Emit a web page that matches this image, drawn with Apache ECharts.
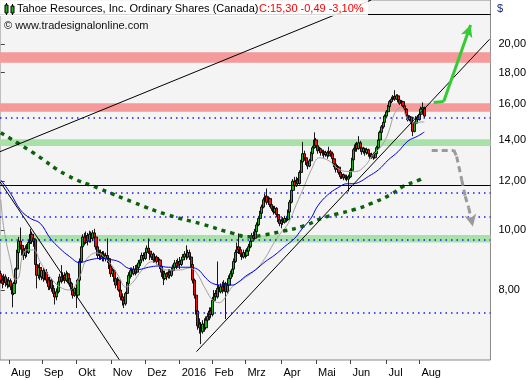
<!DOCTYPE html>
<html><head><meta charset="utf-8">
<script src="https://cdn.jsdelivr.net/npm/echarts@6/dist/echarts.min.js"></script>
<style>html,body{margin:0;padding:0;background:#fff}#c{width:529px;height:380px}</style>
</head><body><div id="c"></div>
<script>
// Daily candles [open, close, low, high], trading days from 2015-07-27
const ohlc = [
[8.50,8.30,8.20,8.60],[8.30,8.20,8.05,8.45],[8.25,8.40,8.15,8.50],[8.40,8.22,8.10,8.48],[8.20,8.15,8.05,8.35],
[8.15,8.28,8.08,8.40],[8.28,8.10,8.00,8.35],[8.10,7.88,7.50,8.15],[7.90,8.20,7.85,8.25],[8.20,8.65,8.15,8.70],
[8.65,9.20,8.60,9.30],[9.20,9.60,9.10,9.75],[9.60,9.45,9.30,10.10],[9.45,9.30,9.10,9.60],[9.30,9.10,8.95,9.40],
[9.10,9.35,9.00,9.45],[9.35,9.20,9.05,9.50],[9.20,9.55,9.15,9.65],[9.55,9.85,9.50,10.05],[9.85,9.60,9.50,9.95],
[9.60,9.70,9.40,9.85],[9.65,8.80,8.70,9.70],[8.80,8.45,8.05,8.90],[8.45,8.70,8.35,8.80],[8.70,8.40,8.30,8.85],
[8.40,8.60,8.30,8.70],[8.60,8.35,8.25,8.70],[8.35,8.55,8.30,8.65],[8.55,8.30,8.20,8.65],[8.30,8.10,8.00,8.40],
[8.10,8.30,8.00,8.40],[8.30,8.05,7.95,8.35],[8.05,7.90,7.80,8.15],[7.90,7.80,7.58,8.00],[7.80,7.95,7.70,8.05],
[7.95,8.25,7.90,8.35],[8.25,8.40,8.20,8.50],[8.40,8.30,8.20,8.78],[8.30,8.45,8.25,8.55],[8.45,8.30,8.20,8.55],
[8.30,8.50,8.25,8.60],[8.50,8.35,8.25,8.55],[8.35,8.20,8.10,8.45],[8.20,8.00,7.90,8.25],[8.00,7.85,7.75,8.05],
[7.85,8.05,7.80,8.10],[8.05,7.85,7.48,8.10],[7.85,8.30,7.80,8.35],[8.30,8.90,8.25,9.00],[8.90,9.40,8.85,9.50],
[9.40,9.75,9.35,9.85],[9.75,9.55,9.45,9.90],[9.55,9.80,9.50,9.95],[9.80,9.60,9.45,9.90],[9.60,9.85,9.55,9.98],
[9.85,9.70,9.55,9.95],[9.70,9.90,9.60,10.00],[9.90,9.75,9.60,10.05],[9.75,9.40,9.30,9.85],[9.40,9.10,9.00,9.45],
[9.10,9.20,8.95,9.30],[9.20,9.05,8.95,9.30],[9.05,9.15,8.90,9.25],[9.15,9.00,8.90,9.25],[9.00,9.10,8.90,9.20],
[9.10,9.00,8.85,9.70],[9.00,8.75,8.65,9.05],[8.75,8.50,8.40,8.80],[8.50,8.60,8.40,8.70],[8.60,8.35,8.25,8.65],
[8.35,8.15,8.05,8.45],[8.15,8.30,8.10,8.40],[8.30,8.00,7.95,8.35],[8.00,7.80,7.70,8.05],[7.80,7.70,7.55,7.90],
[7.70,7.60,7.48,7.80],[7.60,7.90,7.55,7.95],[7.90,8.20,7.85,8.25],[8.20,8.45,8.10,8.55],[8.45,8.60,8.35,8.70],
[8.60,8.50,8.40,8.70],[8.50,8.65,8.45,8.75],[8.65,8.55,8.45,8.78],[8.55,8.70,8.50,8.80],[8.70,8.85,8.60,8.95],
[8.85,8.95,8.75,9.05],[8.95,9.10,8.85,9.20],[9.10,9.00,8.90,9.20],[9.00,9.20,8.95,9.30],[9.20,9.35,9.10,9.45],
[9.35,9.25,9.15,9.70],[9.25,9.05,8.95,9.35],[9.05,9.15,8.95,9.25],[9.15,8.95,8.85,9.20],[8.95,9.05,8.85,9.15],
[9.05,8.90,8.80,9.10],[8.90,8.95,8.80,9.05],[8.95,8.75,8.65,9.00],[8.75,8.55,8.40,8.80],[8.55,8.35,8.15,8.60],
[8.35,8.50,8.30,8.60],[8.50,8.40,8.30,8.55],[8.40,8.55,8.35,8.65],[8.55,8.45,8.35,8.65],[8.45,8.60,8.40,8.70],
[8.60,8.70,8.50,8.80],[8.70,8.85,8.60,8.95],[8.85,8.75,8.65,8.95],[8.75,8.90,8.70,9.00],[8.90,8.80,8.65,9.05],
[8.80,8.95,8.75,9.05],[8.95,9.05,8.85,9.15],[9.05,9.15,8.95,9.25],[9.15,9.05,8.95,9.45],[9.05,9.20,9.00,9.30],
[9.20,9.05,8.95,9.30],[9.05,8.80,8.70,9.10],[8.80,8.30,8.20,8.85],[8.30,7.85,7.75,8.35],[7.85,7.40,7.30,7.90],
[7.40,7.00,6.90,7.45],[7.05,6.95,6.80,7.20],[6.95,6.85,6.54,7.10],[6.85,7.05,6.80,7.15],[7.05,6.95,6.85,7.20],
[6.95,7.15,6.90,7.25],[7.15,7.25,7.05,7.35],[7.25,7.40,7.15,7.50],[7.40,7.30,7.20,7.50],[7.30,7.70,7.25,7.80],
[7.70,7.90,7.65,8.00],[7.90,7.80,7.70,8.00],[7.80,8.05,7.75,8.90],[8.05,7.95,7.85,8.15],[7.95,8.10,7.90,8.20],
[8.10,8.00,7.90,8.25],[8.00,8.20,7.95,8.30],[8.20,7.95,7.18,8.25],[7.95,8.15,7.90,8.25],[8.15,8.35,8.10,8.45],
[8.35,8.50,8.25,8.60],[8.50,8.65,8.40,8.75],[8.65,8.90,8.60,9.00],[8.90,9.20,8.85,9.30],[9.20,9.40,9.10,9.55],
[9.40,9.30,9.15,9.88],[9.30,9.15,9.05,9.40],[9.15,9.05,8.95,9.25],[9.05,9.20,9.00,9.30],[9.20,9.10,9.00,9.30],
[9.10,9.25,9.05,9.35],[9.25,9.40,9.15,9.50],[9.40,9.60,9.35,9.70],[9.60,9.80,9.55,9.90],[9.80,9.70,9.60,9.95],
[9.70,9.95,9.65,10.05],[9.95,10.20,9.90,10.30],[10.20,10.45,10.15,10.55],[10.45,10.65,10.35,10.75],[10.65,10.90,10.60,11.00],
[10.90,11.20,10.85,11.30],[11.20,11.35,11.10,11.45],[11.35,11.10,11.00,11.68],[11.10,11.25,11.00,11.35],[11.25,11.00,10.90,11.30],
[11.00,10.85,10.75,11.10],[10.85,10.70,10.60,10.95],[10.70,10.85,10.65,10.95],[10.85,10.60,10.50,10.90],[10.60,10.40,10.30,10.65],
[10.40,10.25,10.15,10.50],[10.25,10.35,10.07,10.45],[10.35,10.30,10.20,10.50],[10.30,10.45,10.25,10.55],[10.45,10.40,10.30,10.55],
[10.40,10.70,10.35,10.80],[10.70,11.10,10.65,11.20],[11.10,11.60,11.05,11.70],[11.60,12.00,11.55,12.10],[12.00,11.80,11.70,12.20],
[11.80,12.05,11.75,12.20],[12.05,11.90,11.80,12.15],[11.90,12.40,11.85,12.50],[12.40,12.90,12.35,13.00],[12.90,13.30,12.85,13.90],
[13.30,13.10,12.95,13.45],[13.10,12.85,12.75,13.20],[12.85,12.70,12.55,12.95],[12.70,12.95,12.65,13.05],[12.95,13.30,12.90,13.40],
[13.30,13.60,13.25,13.70],[13.60,14.00,13.55,14.40],[14.00,13.70,13.60,14.10],[13.70,13.45,13.30,13.80],[13.45,13.55,13.35,13.65],
[13.55,13.35,13.20,13.60],[13.35,13.40,13.20,13.50],[13.40,13.25,13.10,13.50],[13.25,13.35,13.15,13.45],[13.35,13.20,13.05,13.45],
[13.20,13.40,13.15,13.65],[13.40,13.30,13.15,13.50],[13.30,13.05,12.95,13.40],[13.05,12.80,12.65,13.10],[12.80,12.55,12.40,12.85],
[12.55,12.65,12.45,12.75],[12.65,12.40,12.30,12.70],[12.40,12.20,12.10,12.45],[12.20,12.30,12.10,12.40],[12.30,12.15,12.05,12.35],
[12.15,12.20,12.05,12.30],[12.20,12.10,12.00,12.30],[12.10,12.20,11.55,12.30],[12.20,12.50,12.15,12.60],[12.50,13.00,12.45,13.10],
[13.00,13.50,12.95,13.60],[13.50,13.75,13.40,13.85],[13.75,13.55,13.40,13.90],[13.55,13.85,13.50,14.20],[13.85,13.60,13.45,13.95],
[13.60,13.40,13.25,13.70],[13.40,13.55,13.30,13.65],[13.55,13.35,13.20,13.60],[13.35,13.50,13.25,13.60],[13.50,13.30,13.15,13.55],
[13.30,13.15,13.05,13.40],[13.15,13.25,13.05,13.35],[13.25,13.10,13.00,13.35],[13.10,13.30,13.05,13.40],[13.30,13.60,13.25,13.70],
[13.60,14.00,13.55,14.10],[14.00,14.40,13.95,14.50],[14.40,14.70,14.30,14.80],[14.70,14.95,14.60,15.05],[14.95,15.30,14.90,15.40],
[15.30,15.55,15.20,15.65],[15.55,15.85,15.45,15.95],[15.85,16.15,15.80,16.25],[16.15,16.30,16.05,16.45],[16.30,16.45,16.20,16.55],
[16.45,16.30,16.20,16.85],[16.30,16.50,16.25,16.60],[16.50,16.25,16.10,16.60],[16.25,16.05,15.95,16.35],[16.05,16.15,15.95,16.25],
[16.15,15.90,15.80,16.20],[15.90,15.70,15.60,16.00],[15.70,15.35,15.25,15.75],[15.35,15.10,15.00,15.45],[15.10,15.25,15.00,15.35],
[15.25,14.95,14.85,15.30],[14.95,14.45,14.20,15.00],[14.45,14.90,14.40,15.00],[14.90,15.20,14.85,15.30],[15.20,15.10,15.00,15.35],
[15.10,15.40,15.05,15.50],[15.40,15.70,15.35,15.85],[15.70,15.79,15.55,16.10],[15.79,15.30,15.20,15.85]
];
const holidays = ['2015-08-03','2015-09-07','2015-10-12','2015-12-25','2015-12-28','2016-01-01',
  '2016-02-15','2016-03-25','2016-05-23','2016-07-01','2016-08-01'];
const monthLabels = ['Aug','Sep','Okt','Nov','Dez','2016','Feb','Mrz','Apr','Mai','Jun','Jul','Aug'];
const yTickValues = [8,10,12,14,16,18,20];
// moving averages: [dayIndex, price]
const maFast = [[0,11.2],[2,10.0],[6,8.88],[9,8.31],[11,8.40],[13,9.05],[16,9.29],[20,9.29],[24,8.88],[30,8.40],
  [36,8.09],[42,8.00],[48,8.40],[52,8.95],[58,9.19],[66,8.88],[72,8.40],[76,8.09],[80,8.21],[86,8.62],[92,8.89],
  [101,8.62],[109,8.62],[115,8.69],[119,8.55],[125,8.00],[129,7.71],[133,7.63],[137,7.80],[141,8.10],[147,8.31],
  [155,8.62],[161,9.01],[166,9.50],[170,9.85],[175,10.25],[180,11.0],[185,11.8],[189,12.5],[194,13.1],[200,12.95],
  [205,12.6],[210,12.45],[216,12.44],[222,12.72],[226,13.16],[232,13.70],[236,14.37],[240,15.47],[244,15.82],
  [248,15.08],[252,14.91],[256,14.97],[258,14.97]];
const maMid = [[0,12.06],[6,11.46],[12,10.78],[18,10.45],[24,10.26],[30,9.71],[36,9.34],[42,9.06],[48,8.86],[54,8.95],
  [60,9.00],[66,8.97],[72,8.89],[78,8.67],[84,8.64],[90,8.71],[96,8.75],[102,8.71],[108,8.71],[114,8.71],[120,8.64],
  [125,8.36],[129,8.20],[135,8.15],[141,8.15],[145,8.25],[149,8.42],[155,8.62],[161,8.89],[167,9.12],[173,9.41],
  [179,9.70],[183,10.01],[189,10.46],[193,10.94],[199,11.40],[205,11.70],[211,11.89],[214,11.89],[218,11.95],
  [224,12.22],[230,12.52],[236,12.99],[242,13.40],[248,13.94],[254,14.20],[258,14.42]];
const maSlow = [[0,14.38],[20,13.33],[40,12.29],[61,11.65],[81,11.09],[102,10.58],[122,10.24],[141,9.89],[151,9.76],
  [159,9.81],[173,9.98],[184,10.15],[196,10.46],[204,10.61],[216,10.81],[225,11.03],[237,11.40],[245,11.77],
  [255,12.06],[258,12.2]];
const redZones = [[18.67,19.41],[15.55,16.05]];
const greenZones = [[13.69,14.03],[9.55,9.82]];
const dottedLevels = [15.19,11.49,10.53,9.64,7.34];
const solidLevels = [11.82,22.35];
const trendLines = [[[-0.5,13.40],[225.6,23.58]],[[-0.5,11.98],[72.2,6.17]],[[119.2,6.36],[297.7,20.37]]];
const greenArrow = [[263.7,16.10],[269.8,16.16],[286.2,21.49]];
const grayArrow = [[262.5,13.49],[275.9,13.49],[277.7,13.16],[280.8,12.06],[282.9,11.35],[285,10.88],[287.6,10.14]];

// trading-day calendar
const dates = [];
let d = new Date(Date.UTC(2015, 6, 27));
while (dates.length < ohlc.length) {
  const wd = d.getUTCDay(), s = d.toISOString().slice(0, 10);
  if (wd !== 0 && wd !== 6 && holidays.indexOf(s) < 0) dates.push(s);
  d = new Date(d.getTime() + 86400000);
}
const monthStarts = [];
for (let i = 1; i < dates.length; i++) if (dates[i].slice(5, 7) !== dates[i - 1].slice(5, 7)) monthStarts.push(i);
const labelOf = {};
monthStarts.forEach((m, k) => labelOf[m] = monthLabels[k]);

const candles = ohlc.map((v, i) => [i, v[0], v[1], v[2], v[3]]);
const FONT = 'Liberation Sans';

function path(points, arrow) {
  const segs = [];
  for (let i = 0; i < points.length - 1; i++) {
    const last = i === points.length - 2;
    segs.push([{coord: points[i], symbol: 'none'},
               {coord: points[i + 1], symbol: last && arrow ? 'arrow' : 'none', symbolSize: [9, 12]}]);
  }
  return segs;
}

const chart = echarts.init(document.getElementById('c'), null, {renderer: 'canvas'});
chart.setOption({
  animation: false,
  backgroundColor: '#ffffff',
  grid: {left: 0, right: 36, top: 0, bottom: 20, show: true, backgroundColor: '#f4f4f4',
         borderColor: '#8a8a8a', borderWidth: 1},
  xAxis: {
    type: 'value', min: -0.5, max: 298.3,
    splitLine: {show: false}, axisLine: {show: false},
    axisTick: {show: true, length: 4, lineStyle: {color: '#444'}, customValues: monthStarts},
    axisLabel: {customValues: monthStarts, formatter: v => labelOf[Math.round(v)] || '',
      align: 'left', padding: [0, 0, 0, 2], margin: 7, color: '#000', fontFamily: FONT, fontSize: 11}
  },
  yAxis: {
    type: 'log', logBase: 10, min: 6.164, max: 23.585, position: 'right',
    splitLine: {show: false}, axisLine: {show: false},
    axisTick: {show: true, length: 4, lineStyle: {color: '#444'}, customValues: yTickValues},
    axisLabel: {customValues: yTickValues, formatter: v => v.toFixed(2).replace('.', ','),
      margin: 8, color: '#000', fontFamily: FONT, fontSize: 11}
  },
  series: [
    {
      type: 'line', data: [], z: 1, silent: true,
      markArea: {silent: true, label: {show: false},
        data: redZones.map(z => [{yAxis: z[0], itemStyle: {color: '#f59a9a', opacity: 1}}, {yAxis: z[1]}])
          .concat(greenZones.map(z => [{yAxis: z[0], itemStyle: {color: '#a9e2a9', opacity: 1}}, {yAxis: z[1]}]))},
      markLine: {silent: true, symbol: ['none', 'none'], label: {show: false},
        data: dottedLevels.map(v => ({yAxis: v, lineStyle: {color: '#1a1aff', width: 1.5, type: [1.5, 4]}}))
          .concat(solidLevels.map(v => ({yAxis: v, lineStyle: {color: '#000', width: 1, type: 'solid'}})))}
    },
    {
      type: 'candlestick', data: candles, encode: {x: 0, y: [1, 2, 3, 4]}, z: 2, barWidth: 2.6,
      silent: true,
      itemStyle: {color: '#1fb01f', color0: '#f01010', borderColor: '#000', borderColor0: '#000', borderWidth: 0.9}
    },
    {type: 'line', data: maFast, smooth: 0.4, symbol: 'none', z: 3, silent: true,
     lineStyle: {color: '#a0a0a0', width: 1}},
    {type: 'line', data: maMid, smooth: 0.4, symbol: 'none', z: 3, silent: true,
     lineStyle: {color: '#0000e0', width: 1}},
    {type: 'line', data: maSlow, smooth: 0.5, symbol: 'none', z: 3, silent: true,
     lineStyle: {color: '#0b620b', width: 3.5, type: [4, 5]}},
    {
      type: 'line', data: [], z: 4, silent: true,
      markLine: {silent: true, symbol: ['none', 'none'], label: {show: false},
        data: trendLines.map(t => [{coord: t[0], lineStyle: {color: '#000', width: 1, type: 'solid'}}, {coord: t[1]}])}
    },
    {
      type: 'line', data: [], z: 5, silent: true,
      markLine: {silent: true, symbol: ['none', 'none'], label: {show: false},
        lineStyle: {color: '#33cc33', width: 3, type: 'solid'},
        data: path(greenArrow, true)}
    },
    {
      type: 'line', data: [], z: 5, silent: true,
      markLine: {silent: true, symbol: ['none', 'none'], label: {show: false},
        lineStyle: {color: '#9a9a9a', width: 3, type: [6, 4]},
        data: path(grayArrow, true)}
    }
  ],
  graphic: [
    {type: 'rect', shape: {x: 0, y: 0, width: 368, height: 16}, style: {fill: 'rgba(255,255,255,0.85)'}, z: 100, silent: true},
    {type: 'line', shape: {x1: 6.5, y1: 3, x2: 6.5, y2: 15}, style: {stroke: '#000', lineWidth: 1}, z: 101},
    {type: 'rect', shape: {x: 5, y: 5, width: 3, height: 8}, style: {fill: '#1fb01f', stroke: '#000', lineWidth: 1}, z: 102},
    {type: 'line', shape: {x1: 12.5, y1: 4, x2: 12.5, y2: 15}, style: {stroke: '#000', lineWidth: 1}, z: 101},
    {type: 'rect', shape: {x: 11, y: 6, width: 3, height: 7}, style: {fill: '#1fb01f', stroke: '#000', lineWidth: 1}, z: 102},
    {type: 'text', x: 17, y: 9, z: 103, style: {text: 'Tahoe Resources, Inc. Ordinary Shares (Canada)',
      fill: '#000', fontFamily: FONT, fontSize: 11, verticalAlign: 'middle'}},
    {type: 'text', x: 259, y: 9, z: 103, style: {text: 'C:15,30 -0,49 -3,10%',
      fill: '#ff0000', fontFamily: FONT, fontSize: 11, verticalAlign: 'middle'}},
    {type: 'text', x: 4, y: 26, z: 103, style: {text: '\u00a9 www.tradesignalonline.com',
      fill: '#111', fontFamily: FONT, fontSize: 11, verticalAlign: 'middle'}},
    {type: 'text', x: 497, y: 9, z: 103, style: {text: '$', fill: '#1a2a7a', fontFamily: FONT, fontSize: 11, verticalAlign: 'middle'}}
  ]
});
</script></body></html>
